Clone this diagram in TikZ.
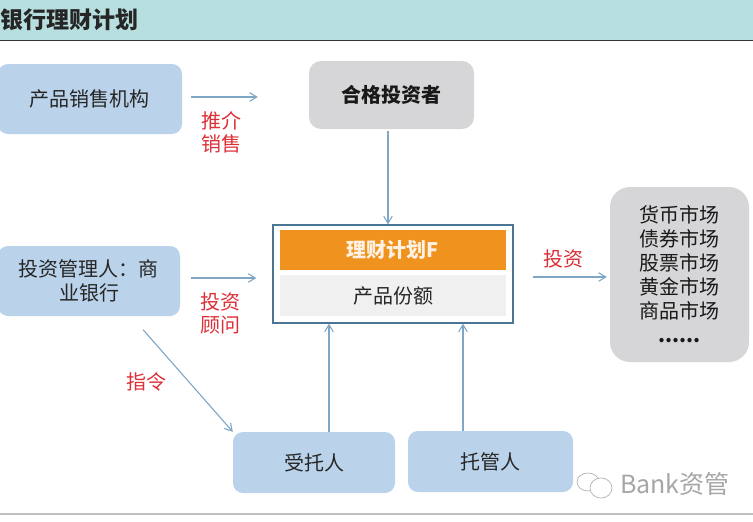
\documentclass[tikz,border=0pt]{standalone}
\usepackage{fontspec}
\setmainfont{Noto Sans CJK SC}
\usepackage{xcolor}
\usetikzlibrary{arrows.meta, positioning}
\definecolor{headbg}{HTML}{B8DFE0}
\definecolor{boxblue}{HTML}{BAD3EB}
\definecolor{boxgray}{HTML}{D6D6D8}
\definecolor{arrblue}{HTML}{7FA6C4}
\definecolor{framecol}{HTML}{4A7593}
\definecolor{planorange}{HTML}{F0921E}
\definecolor{labelred}{HTML}{DC3038}

\begin{document}
\begin{tikzpicture}[
    x=1pt, y=-1pt,
    blue box/.style={rounded corners=10pt, fill=boxblue, align=center, font=\fontsize{20}{24.5}\selectfont, text=black!85, inner sep=0pt},
    gray box/.style={rounded corners=12pt, fill=boxgray, align=center, font=\fontsize{20}{24}\selectfont, text=black!90, inner sep=0pt},
    arr/.style={-{Straight Barb[length=2.5mm, width=3mm]}, arrblue, line width=1.1pt},
    lbl/.style={text=labelred, align=center, font=\fontsize{20}{23}\selectfont, inner sep=0pt}
  ]
  \useasboundingbox (0,0) rectangle (753,522);
  \fill[white] (0,0) rectangle (753,522);

  % header
  \node[fill=headbg, minimum width=753pt, minimum height=40pt, inner sep=0pt, anchor=north west] (head) at (0,0) {};
  \node[anchor=west, inner sep=0pt, font=\fontsize{23}{23}\selectfont\bfseries, text=black!85] (title) at (0,20) {银行理财计划};
  \draw[black!80, line width=1.8pt] (head.south west) -- (head.south east);

  % parties
  \node[blue box, minimum width=184pt, minimum height=70pt] (sales) at (90,99) {产品销售机构};
  \node[gray box, minimum width=165pt, minimum height=68pt, font=\fontsize{20}{24}\selectfont\bfseries] (investor) at (391.5,95) {合格投资者};
  \node[blue box, minimum width=182pt, minimum height=70pt] (manager) at (89,281) {投资管理人：商\\业银行};
  \node[blue box, minimum width=162pt, minimum height=61pt] (trustee) at (314,462.5) {受托人};
  \node[blue box, minimum width=165pt, minimum height=61pt] (custodian) at (490.5,461.5) {托管人};
  \node[gray box, rounded corners=20pt, minimum width=139pt, minimum height=175pt] (markets) at (679.5,274.5) {货币市场\\债券市场\\股票市场\\黄金市场\\商品市场\\{\bfseries ......}};

  % plan
  \node[draw=framecol, line width=1.2pt, fill=white, minimum width=240pt, minimum height=98pt, inner sep=0pt] (plan) at (393,274) {};
  \node[fill=planorange, minimum width=226pt, minimum height=40pt, inner sep=0pt, text=white!90!orange, font=\fontsize{20}{24}\selectfont\bfseries] (planname) at (393,250) {理财计划F};
  \node[fill=black!6, minimum width=226pt, minimum height=41pt, inner sep=0pt, text=black!85, font=\fontsize{20}{24}\selectfont, below=5pt of planname] (share) {产品份额};

  % connectors
  \draw[arr, shorten <=9pt, shorten >=51pt] ([yshift=2pt]sales.east) -- ([yshift=2pt]sales.east -| investor.west);
  \draw[arr, shorten <=2pt] ([xshift=-3.5pt]investor.south) -- ([xshift=-5pt]plan.north);
  \draw[arr, shorten <=11pt, shorten >=16pt] ([yshift=3pt]manager.east) -- ([yshift=3pt]manager.east -| plan.west);
  \draw[arr, shorten <=19pt, shorten >=3pt] ([yshift=-3pt]plan.east) -- ([yshift=-2.5pt]markets.west);
  \draw[arr, shorten <=18pt] ([xshift=-49pt]manager.south east) -- (trustee.north west);
  \draw[arr] (trustee.north -| 329,0) -- (plan.south -| 329,0);
  \draw[arr] (custodian.north -| 463,0) -- (plan.south -| 463,0);

  % labels
  \node[lbl] (pushlbl) at (221,132) {推介\\销售};
  \node[lbl] (advlbl) at (220,313) {投资\\顾问};
  \node[lbl] (orderlbl) at (146,382) {指令};
  \node[lbl] (investlbl) at (563,259) {投资};

  % watermark
  \node[anchor=west, inner sep=0pt, text=black!35, font=\fontsize{25}{25}\selectfont] (mark) at (620,484) {Bank资管};
  \draw[black!30, line width=0.7pt] (588,482) ellipse (11pt and 9pt);
  \draw[black!30, line width=0.7pt, fill=white] (601,488) ellipse (11pt and 10pt);

  % bottom rule
  \draw[black!25, line width=2.5pt] (0,514) -- (753,514);
\end{tikzpicture}
\end{document}
